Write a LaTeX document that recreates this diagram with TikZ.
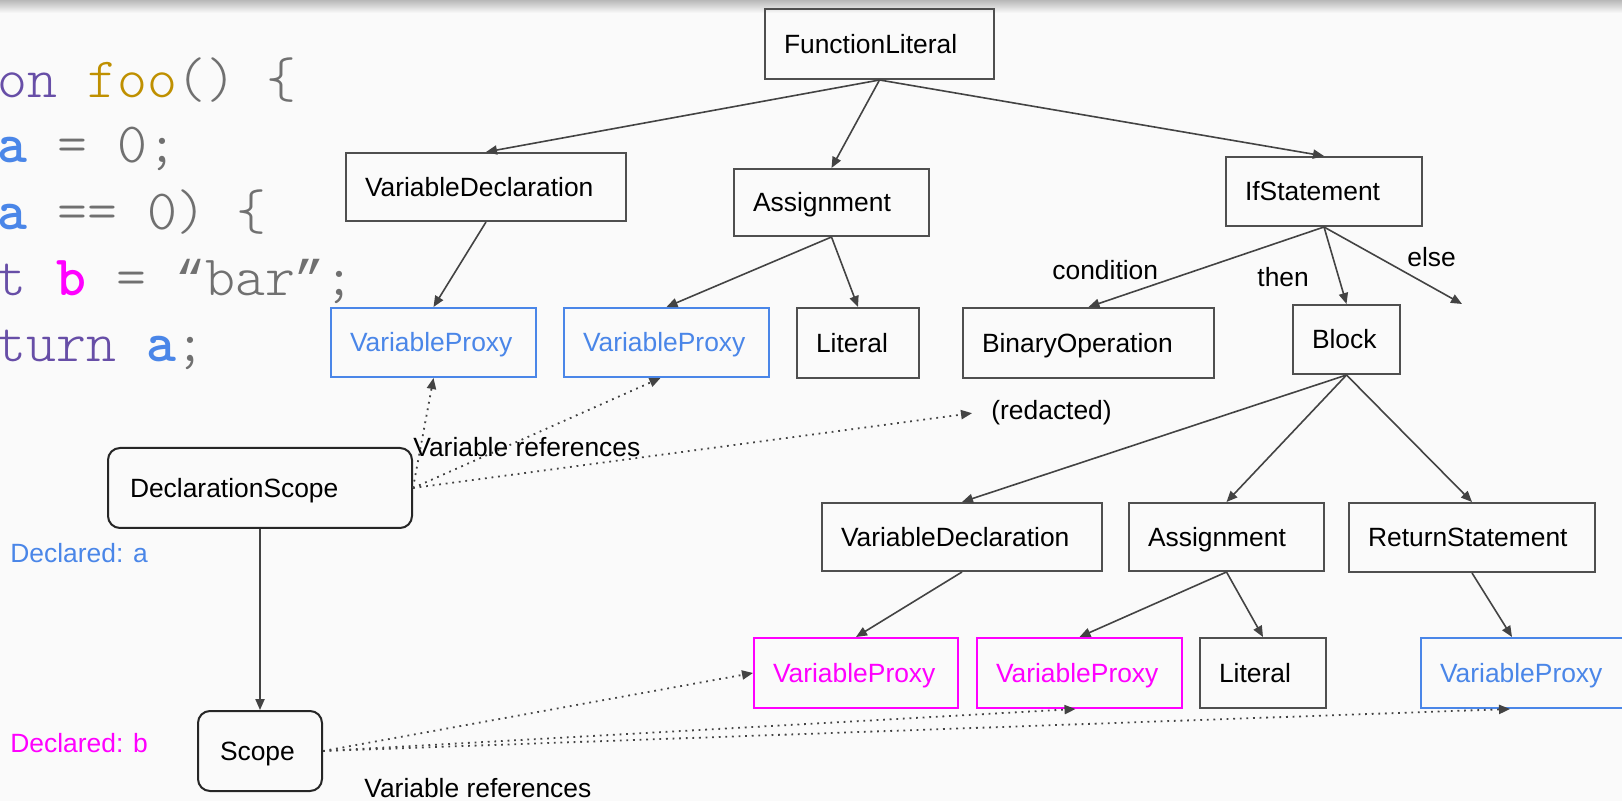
\documentclass[tikz,border=0pt]{standalone}
\usepackage{fontspec}
\newfontfamily\labelfont{Liberation Sans}
\newfontfamily\quotefont{Liberation Mono}
\usetikzlibrary{arrows.meta,calc}

\definecolor{pagebg}{HTML}{FAFAFA}
\definecolor{edgegray}{HTML}{434343}
\definecolor{boxgray}{HTML}{4F4F4F}
\definecolor{refblue}{HTML}{4A86E8}
\definecolor{refmagenta}{HTML}{FF00FF}
\definecolor{codegray}{HTML}{707070}
\definecolor{codepurple}{HTML}{674EA7}
\definecolor{codegold}{HTML}{BF9000}

\hyphenpenalty=10000
\exhyphenpenalty=10000

% a curly quote set in one cell of the listing's monospaced grid
\newcommand\cellquote[1]{\makebox[0.514em][c]{\quotefont\fontsize{25pt}{25pt}\selectfont #1}}

\tikzset{
  txt/.style={font=\labelfont\fontsize{13.2pt}{15pt}\selectfont, inner sep=0pt},
  astbox/.style={draw=boxgray, line width=1pt, rectangle, txt, inner xsep=9.5pt, inner ysep=0pt,
    text height=9.5pt, text depth=0pt, align=left},
  scopebox/.style={astbox, draw=black!85, rounded corners=6pt, inner xsep=11pt},
  bluebox/.style={astbox, draw=refblue, text=refblue},
  pinkbox/.style={astbox, draw=refmagenta, text=refmagenta},
  edge/.style={draw=edgegray, line width=0.8pt, -{Triangle[length=5.5pt,width=4.6pt]}},
  refedge/.style={draw=edgegray, line width=0.9pt, dash pattern=on 0.9pt off 2.4pt,
    -{Triangle[length=5.5pt,width=4.6pt]}},
  code/.style={anchor=base west, inner sep=0pt, text=codegray,
    font=\fontseries{l}\ttfamily\fontsize{28.5pt}{30pt}\selectfont},
}

\begin{document}
\begin{tikzpicture}[x=0.5pt, y=-0.5pt]
  % canvas and the soft shadow along the top edge
  \useasboundingbox (0,0) rectangle (1622,801);
  \fill[pagebg] (0,0) rectangle (1622,801);
  \shade[top color=black!28, bottom color=pagebg] (0,0) rectangle (1622,13);

  % source listing (cut at the left edge)
  \node[code] (l1) at (-3,98)  {{\color{codepurple}on} {\color{codegold}foo}() \{};
  \node[code] (l2) at (-3,163) {{\color{refblue}\bfseries a} = 0;};
  \node[code] (l3) at (-3,230) {{\color{refblue}\bfseries a} == 0) \{};
  \node[code] (l4) at (-4,296) {{\color{codepurple}t} {\color{refmagenta}\bfseries b} = \cellquote{“}bar\cellquote{”};};
  \node[code] (l5) at (-4,362) {{\color{codepurple}turn} {\color{refblue}\bfseries a};};

  % upper part of the tree
  \node[astbox, text width=95.5pt, minimum height=35pt]   (fl)   at (879.5,44)   {FunctionLiteral};
  \node[astbox, text width=121pt,  minimum height=34pt]   (vd1)  at (486,187)    {VariableDeclaration};
  \node[astbox, text width=78.5pt, minimum height=33.5pt] (as1)  at (831.5,202.5) {Assignment};
  \node[astbox, text width=79pt,   minimum height=34.5pt] (ifs)  at (1324,191.5) {IfStatement};

  \node[bluebox, text width=83.5pt, minimum height=34.5pt] (vp1) at (433.5,342.5) {VariableProxy};
  \node[bluebox, text width=83.5pt, minimum height=34.5pt] (vp2) at (666.5,342.5) {VariableProxy};
  \node[astbox, text width=42pt,    minimum height=35pt]   (lit1) at (858,343)   {Literal};
  \node[astbox, text width=106.5pt, minimum height=35pt]   (bin)  at (1088.5,343) {BinaryOperation};
  \node[astbox, text width=34.5pt,  minimum height=34.5pt] (blk)  at (1346.5,339.5) {Block};

  % body of the if branch
  \node[astbox, text width=121pt,  minimum height=34pt] (vd2) at (962,537)    {VariableDeclaration};
  \node[astbox, text width=78.5pt, minimum height=34pt] (as2) at (1226.5,537) {Assignment};
  \node[astbox, text width=104pt,  minimum height=34.5pt] (ret) at (1472,537.5) {ReturnStatement};

  \node[pinkbox, text width=83pt,   minimum height=35pt] (vpm1) at (856,673)    {VariableProxy};
  \node[pinkbox, text width=83.5pt, minimum height=35pt] (vpm2) at (1079.5,673) {VariableProxy};
  \node[astbox,  text width=44pt,   minimum height=35pt] (lit2) at (1263,673)   {Literal};
  \node[bluebox, text width=83.5pt, minimum height=35pt] (vpb3) at (1523.5,673) {VariableProxy};

  % scopes
  \node[scopebox, text width=130pt, minimum height=40pt] (dscope) at (260,488) {DeclarationScope};
  \node[scopebox, text width=40pt,  minimum height=40pt] (scope)  at (260,751) {Scope};

  % free text
  \node[txt, anchor=base west, inner xsep=9.5pt] (red) at (972,420) {(redacted)};
  \node[txt, anchor=base west] (ref1) at (413,457) {Variable references};
  \node[txt, anchor=base west] (ref2) at (364,797) {Variable references};
  \node[txt, anchor=base west, text=refblue]    (decla) at (10,563) {Declared: a};
  \node[txt, anchor=base west, text=refmagenta] (declb) at (10,752) {Declared: b};
  \node[txt, anchor=base west] (lcond) at (1052,280) {condition};
  \node[txt, anchor=base west] (lthen) at (1257,287) {then};
  \node[txt, anchor=base west] (lelse) at (1407,267) {else};
  \coordinate (elseend) at (1462,304);

  % tree edges
  \draw[edge] (fl.south) -- (vd1.north);
  \draw[edge] (fl.south) -- (as1.north);
  \draw[edge] (fl.south) -- (ifs.north);
  \draw[edge] (vd1.south) -- (vp1.north);
  \draw[edge] (as1.south) -- (vp2.north);
  \draw[edge] (as1.south) -- (lit1.north);
  \draw[edge] (ifs.south) -- (bin.north);
  \draw[edge] (ifs.south) -- (blk.north);
  \draw[edge] (ifs.south) -- (elseend);
  \draw[edge] (blk.south) -- (vd2.north);
  \draw[edge] (blk.south) -- (as2.north);
  \draw[edge] (blk.south) -- (ret.north);
  \draw[edge] (vd2.south) -- (vpm1.north);
  \draw[edge] (as2.south) -- (vpm2.north);
  \draw[edge] (as2.south) -- (lit2.north);
  \draw[edge] (ret.south) -- ($(vpb3.north west)+(92,0)$);
  \draw[edge] (dscope.south) -- (scope.north);

  % variable references
  \draw[refedge] (dscope.east) -- (vp1.south);
  \draw[refedge] (dscope.east) -- ($(vp2.south)+(-6,0)$);
  \draw[refedge] (dscope.east) -- (red.west);
  \draw[refedge] (scope.east) -- (vpm1.west);
  \draw[refedge] (scope.east) -- ($(vpm2.south)+(-4,0)$);
  \draw[refedge] (scope.east) -- ($(vpb3.south west)+(90,0)$);
\end{tikzpicture}
\end{document}
